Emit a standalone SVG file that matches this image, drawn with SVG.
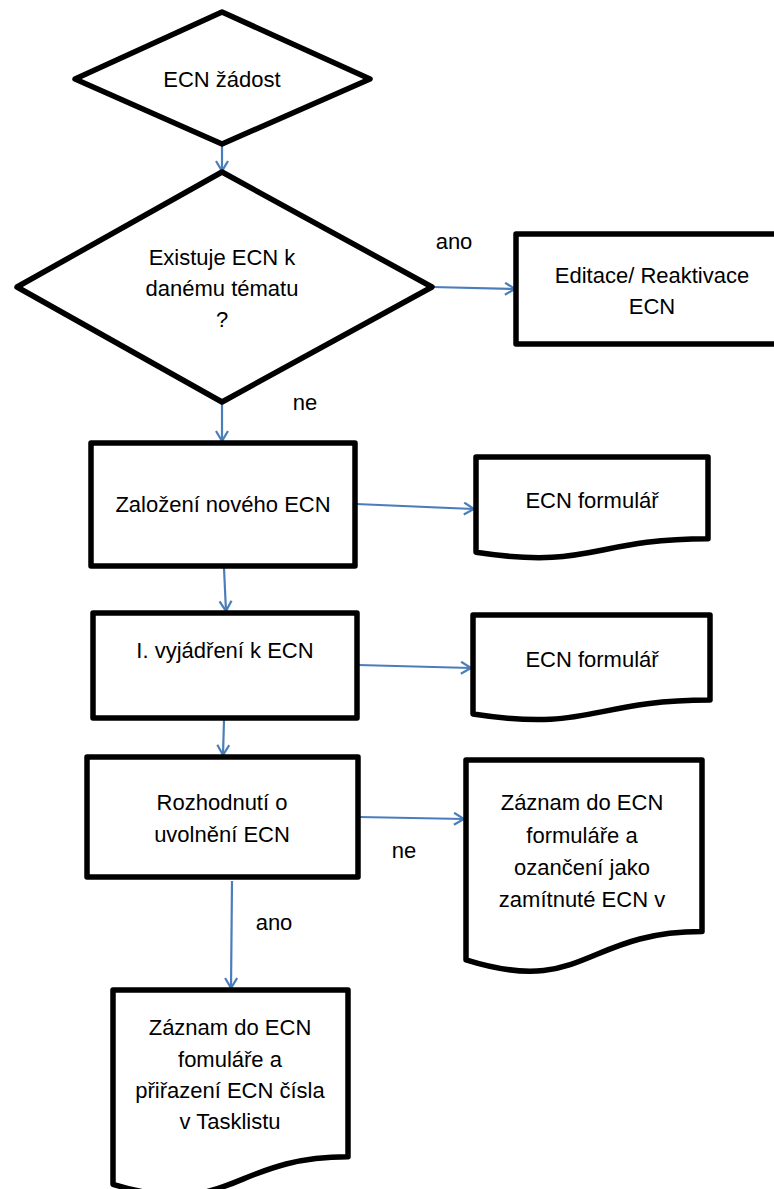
<svg xmlns="http://www.w3.org/2000/svg" width="774" height="1189" viewBox="0 0 774 1189">
  <style>
    .shape { fill: #ffffff; stroke: #000000; stroke-width: 5.5; stroke-linejoin: round; }
    .conn { fill: none; stroke: #4a7ebb; stroke-width: 2.2; }
    .txt { font-family: "Liberation Sans", Arial, sans-serif; font-size: 22px; fill: #000000; text-anchor: middle; }
  </style>
  <defs>
    <marker id="arrow" markerUnits="userSpaceOnUse" markerWidth="14" markerHeight="16" refX="11" refY="7" orient="auto">
      <path d="M1,1 L11,7 L1,13" fill="none" stroke="#4a7ebb" stroke-width="2.2"/>
    </marker>
  </defs>
  <rect width="774" height="1189" fill="#ffffff"/>

  <!-- connectors -->
  <g id="connectors">
    <line class="conn" x1="222" y1="145" x2="222" y2="171" marker-end="url(#arrow)"/>
    <line class="conn" x1="432" y1="287" x2="515" y2="289" marker-end="url(#arrow)"/>
    <line class="conn" x1="222" y1="402" x2="222" y2="441" marker-end="url(#arrow)"/>
    <line class="conn" x1="356" y1="504" x2="474" y2="509" marker-end="url(#arrow)"/>
    <line class="conn" x1="224" y1="568" x2="226" y2="611" marker-end="url(#arrow)"/>
    <line class="conn" x1="358" y1="665" x2="471" y2="668" marker-end="url(#arrow)"/>
    <line class="conn" x1="224" y1="720" x2="223" y2="755" marker-end="url(#arrow)"/>
    <line class="conn" x1="359" y1="817" x2="464" y2="819" marker-end="url(#arrow)"/>
    <line class="conn" x1="232" y1="881" x2="231" y2="988" marker-end="url(#arrow)"/>
    <text class="txt" x="454" y="249">ano</text>
    <text class="txt" x="305" y="410">ne</text>
    <text class="txt" x="404" y="858">ne</text>
    <text class="txt" x="274" y="930">ano</text>
  </g>

  <!-- start: request -->
  <g id="request">
    <polygon class="shape" points="222,12 370,79 222,144 75,79"/>
    <text class="txt" x="222" y="87">ECN žádost</text>
  </g>

  <!-- decision: ECN exists? -->
  <g id="exists">
    <polygon class="shape" points="222,172 432,287 222,402 17,287"/>
    <text class="txt" x="222" y="265">Existuje ECN k</text>
    <text class="txt" x="222" y="296">danému tématu</text>
    <text class="txt" x="222" y="327">?</text>
  </g>

  <g id="edit">
    <rect class="shape" x="516" y="234" width="272" height="110"/>
    <text class="txt" x="652" y="283">Editace/ Reaktivace</text>
    <text class="txt" x="652" y="314">ECN</text>
  </g>

  <g id="create">
    <rect class="shape" x="91" y="443" width="264" height="123"/>
    <text class="txt" x="223" y="512">Založení nového ECN</text>
  </g>

  <g id="form1">
    <path class="shape" d="M476,457 H708 V538.8 C592,538.8 592,569.9 476,552.3 Z"/>
    <text class="txt" x="592" y="508">ECN formulář</text>
  </g>

  <g id="statement">
    <rect class="shape" x="93" y="613" width="264" height="105"/>
    <text class="txt" x="225" y="658">I. vyjádření k ECN</text>
  </g>

  <g id="form2">
    <path class="shape" d="M473,615 H710 V700 C591.5,700 591.5,732.3 473,714 Z"/>
    <text class="txt" x="592" y="667">ECN formulář</text>
  </g>

  <g id="decision">
    <rect class="shape" x="87" y="757" width="271" height="120"/>
    <text class="txt" x="222" y="810">Rozhodnutí o</text>
    <text class="txt" x="222" y="842">uvolnění ECN</text>
  </g>

  <g id="rejected">
    <path class="shape" d="M466,760 H702 V931.6 C584,931.6 584,996.9 466,959.9 Z"/>
    <text class="txt" x="582" y="810">Záznam do ECN</text>
    <text class="txt" x="582" y="843">formuláře a</text>
    <text class="txt" x="582" y="875">ozančení jako</text>
    <text class="txt" x="582" y="907">zamítnuté ECN v</text>
  </g>

  <g id="approved">
    <path class="shape" d="M113,990 H348 V1156.8 C230.5,1156.8 230.5,1220.3 113,1184.3 Z"/>
    <text class="txt" x="230" y="1035">Záznam do ECN</text>
    <text class="txt" x="230" y="1067">fomuláře a</text>
    <text class="txt" x="230" y="1098">přiřazení ECN čísla</text>
    <text class="txt" x="230" y="1129">v Tasklistu</text>
  </g>
</svg>
